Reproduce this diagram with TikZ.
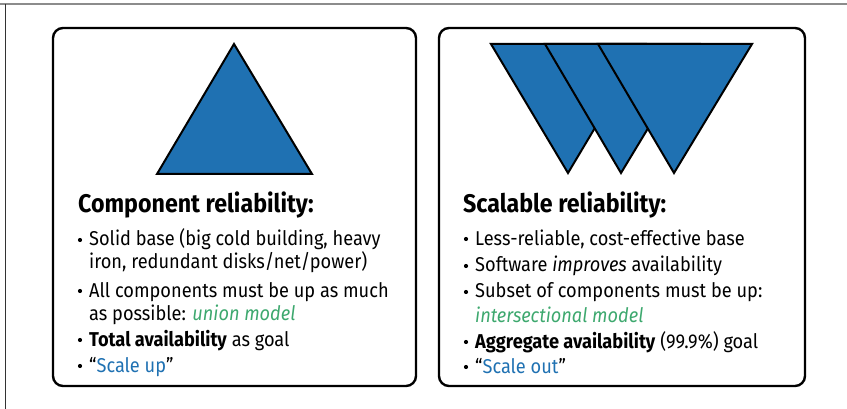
\documentclass[tikz,border=0pt]{standalone}
\usepackage{fontspec}
\setmainfont{Fira Sans}[FakeStretch=0.91]
\definecolor{oblue}{RGB}{31,113,178}
\definecolor{ogreen}{RGB}{61,168,110}
\definecolor{framegray}{RGB}{140,140,140}
\begin{document}
\begin{tikzpicture}[x=1pt,y=-1pt,
  panel/.style={draw=black, line width=2.4pt, rounded corners=10pt},
  tri/.style={fill=oblue, draw=black, line width=2pt},
  head/.style={anchor=base west, inner sep=0pt, font=\fontsize{25.5}{25.5}\selectfont\bfseries},
  txt/.style={anchor=base west, inner sep=0pt, font=\fontsize{20}{20}\selectfont},
  bul/.style={circle, fill=black, inner sep=0pt, minimum size=4.2pt},
  hl/.style={text=ogreen}]
\useasboundingbox (0,0) rectangle (847,409);
% outer frame remnants
\draw[framegray, line width=1.5pt] (0,4) -- (847,4);
\draw[black!80, line width=1pt] (5,4) -- (5,409);
% panels
\draw[panel] (53,28) rectangle (416,386);
\draw[panel] (439,28) rectangle (805,386);
% triangle
\draw[tri] (234,44) -- (312,174) -- (157,174) -- cycle;
% inverted triangles
\draw[tri] (491,44) -- (645,44) -- (568,173) -- cycle;
\draw[tri] (545,44) -- (699,44) -- (621,173) -- cycle;
\draw[tri] (598,44) -- (752,44) -- (674,173) -- cycle;
% left text
\node[head] (lh) at (78,213) {Component reliability:};
\node[bul] (lb1) at (80,240) {};
\node[txt] (l1) at (89,246) {Solid base (big cold building, heavy};
\node[txt] (l2) at (89,269) {iron, redundant disks/net/power)};
\node[bul] (lb2) at (80,291) {};
\node[txt] (l3) at (89,297) {All components must be up as much};
\node[txt] (l4) at (89,320) {as possible: \textcolor{ogreen}{\itshape union model}};
\node[bul] (lb3) at (80,340) {};
\node[txt] (l5) at (89,346) {\textbf{Total availability} as goal};
\node[bul] (lb4) at (80,366) {};
\node[txt] (l6) at (89,372) {“\textcolor{oblue}{Scale up}”};
% right text
\node[head] (rh) at (463,213) {Scalable reliability:};
\node[bul] (rb1) at (466,239) {};
\node[txt] (r1) at (475,245) {Less-reliable, cost-effective base};
\node[bul] (rb2) at (466,266) {};
\node[txt] (r2) at (475,272) {Software \textit{improves} availability};
\node[bul] (rb3) at (466,292) {};
\node[txt] (r3) at (475,298) {Subset of components must be up:};
\node[txt] (r4) at (475,322) {\textcolor{ogreen}{\itshape intersectional model}};
\node[bul] (rb4) at (466,342) {};
\node[txt] (r5) at (475,348) {\textbf{Aggregate availability} (99.9\%) goal};
\node[bul] (rb5) at (466,367) {};
\node[txt] (r6) at (475,373) {“\textcolor{oblue}{Scale out}”};
\end{tikzpicture}
\end{document}
